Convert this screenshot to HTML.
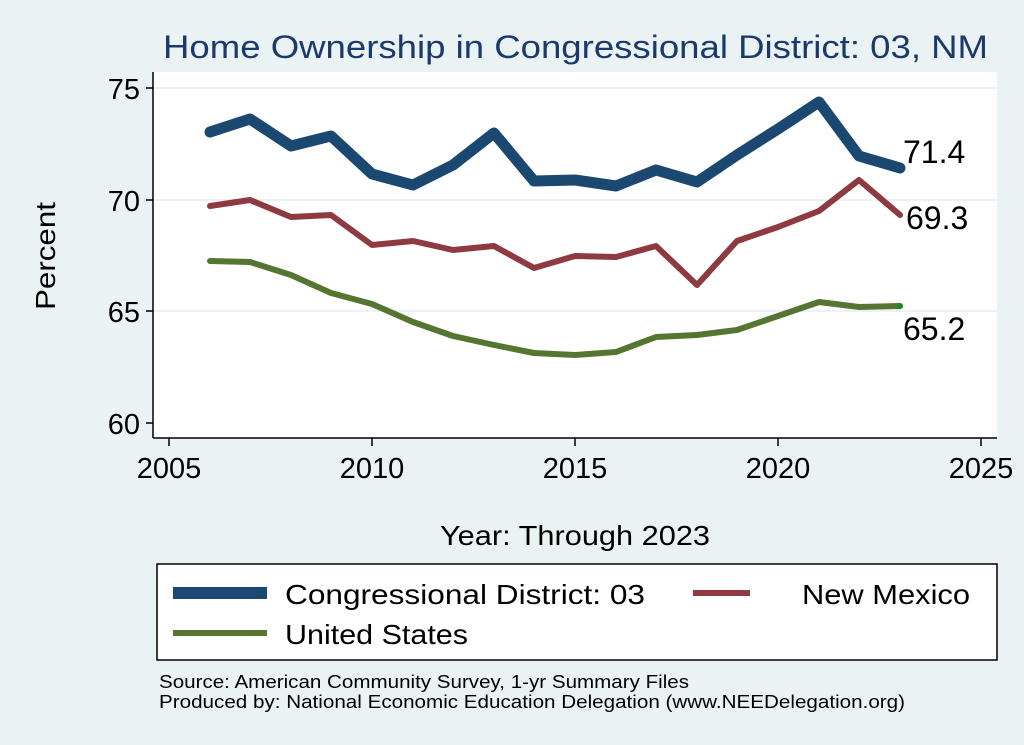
<!DOCTYPE html>
<html><head><style>body{margin:0;background:#eaf2f3}svg{display:block}</style></head><body>
<svg width="1024" height="745" xmlns="http://www.w3.org/2000/svg" font-family="Liberation Sans, sans-serif">
<rect width="1024" height="745" fill="#eaf2f3"/>
<text x="163" y="58" font-size="32" fill="#1a3a6b" textLength="825" lengthAdjust="spacingAndGlyphs">Home Ownership in Congressional District:  03, NM</text>
<rect x="153" y="72" width="844" height="366" fill="#fff"/>
<g stroke="#eaf2f3" stroke-width="2"><line x1="153" y1="88" x2="997" y2="88"/><line x1="153" y1="200" x2="997" y2="200"/><line x1="153" y1="311" x2="997" y2="311"/></g>
<g stroke="#000" stroke-width="1.5" fill="none">
<line x1="153" y1="72" x2="153" y2="438"/><line x1="153" y1="438" x2="997" y2="438"/>
<line x1="146" y1="88" x2="153" y2="88"/><line x1="146" y1="200" x2="153" y2="200"/><line x1="146" y1="311" x2="153" y2="311"/><line x1="146" y1="423" x2="153" y2="423"/>
<line x1="169" y1="438" x2="169" y2="446"/><line x1="372" y1="438" x2="372" y2="446"/><line x1="575" y1="438" x2="575" y2="446"/><line x1="778" y1="438" x2="778" y2="446"/><line x1="981" y1="438" x2="981" y2="446"/>
</g>
<g font-size="29" text-anchor="end"><text x="140" y="99">75</text><text x="140" y="211">70</text><text x="140" y="322">65</text><text x="140" y="434">60</text></g>
<g font-size="29" text-anchor="middle"><text x="169" y="478">2005</text><text x="372" y="478">2010</text><text x="575" y="478">2015</text><text x="778" y="478">2020</text><text x="981" y="478">2025</text></g>
<text x="440" y="545" font-size="28" textLength="270" lengthAdjust="spacingAndGlyphs">Year: Through 2023</text>
<text transform="translate(55,310) rotate(-90)" font-size="28" textLength="108" lengthAdjust="spacingAndGlyphs">Percent</text>
<g fill="none" stroke-linejoin="round" stroke-linecap="round">
<polyline stroke="#1a4870" stroke-width="11" points="210,132 250,119 291,146 331,136 372,174 413,185 453,165 494,133 534,181 575,180 616,186 656,170 697,182 737,155 778,129 819,102 859,156 900,168"/>
<polyline stroke="#8e3a40" stroke-width="6" points="210,206 250,200 291,217 331,215 372,245 413,241 453,250 494,246 534,268 575,256 616,257 656,246 697,285 737,241 778,227 819,211 859,180 900,215"/>
<polyline stroke="#557630" stroke-width="6" points="210,261 250,262 291,275 331,293 372,304 413,322 453,336 494,345 534,353 575,355 616,352 656,337 697,335 737,330 778,316 819,302 859,307 900,306"/>
</g>
<circle cx="900" cy="306" r="3" fill="#1a8a1a"/>
<g font-size="32"><text x="903" y="163">71.4</text><text x="906" y="229">69.3</text><text x="903" y="340">65.2</text></g>
<rect x="157" y="564" width="840" height="96" fill="#fff" stroke="#000" stroke-width="1.5"/>
<line x1="173" y1="593" x2="267" y2="593" stroke="#1a4870" stroke-width="12"/>
<line x1="693" y1="593" x2="750" y2="593" stroke="#8e3a40" stroke-width="6"/>
<line x1="173" y1="633" x2="267" y2="633" stroke="#557630" stroke-width="6"/>
<g font-size="28"><text x="285" y="604" textLength="360" lengthAdjust="spacingAndGlyphs">Congressional District:  03</text><text x="802" y="604" textLength="168" lengthAdjust="spacingAndGlyphs">New Mexico</text><text x="285" y="644" textLength="183" lengthAdjust="spacingAndGlyphs">United States</text></g>
<g font-size="18"><text x="159" y="688" textLength="530" lengthAdjust="spacingAndGlyphs">Source: American Community Survey, 1-yr Summary Files</text><text x="159" y="708" textLength="746" lengthAdjust="spacingAndGlyphs">Produced by: National Economic Education Delegation (www.NEEDelegation.org)</text></g>
</svg>
</body></html>
